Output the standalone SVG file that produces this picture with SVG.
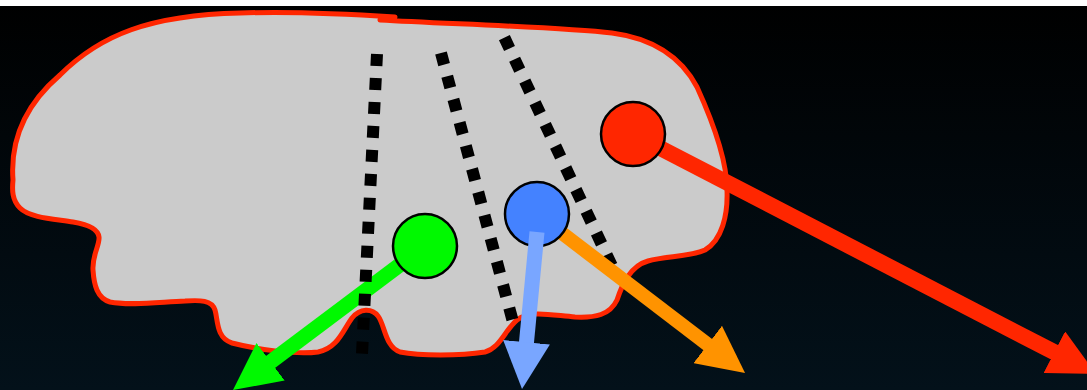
<svg xmlns="http://www.w3.org/2000/svg" width="1087" height="390" viewBox="0 0 1087 390">
  <style>
    .outline { fill: #cbcbcb; stroke: #ff2600; stroke-width: 5; stroke-linejoin: round; }
    .dotted { fill: none; stroke: #000000; stroke-width: 12; stroke-dasharray: 12 12; }
    .node { stroke: #000000; stroke-width: 2.5; }
    .arrow { fill: none; stroke-linecap: butt; }
  </style>
  <defs>
    <linearGradient id="bg" x1="0" y1="0" x2="0" y2="1">
      <stop offset="0" stop-color="#000000"/>
      <stop offset="1" stop-color="#03111a"/>
    </linearGradient>
    <marker id="head-green" markerUnits="userSpaceOnUse" markerWidth="47" markerHeight="47" viewBox="0 0 47 47" refX="1" refY="23.5" orient="auto">
      <path d="M0,0 L47,23.5 L0,47 Z" fill="#00f900"/>
    </marker>
    <marker id="head-blue" markerUnits="userSpaceOnUse" markerWidth="47" markerHeight="47" viewBox="0 0 47 47" refX="1" refY="23.5" orient="auto">
      <path d="M0,0 L47,23.5 L0,47 Z" fill="#79a6ff"/>
    </marker>
    <marker id="head-orange" markerUnits="userSpaceOnUse" markerWidth="47" markerHeight="47" viewBox="0 0 47 47" refX="1" refY="23.5" orient="auto">
      <path d="M0,0 L47,23.5 L0,47 Z" fill="#ff9300"/>
    </marker>
    <marker id="head-red" markerUnits="userSpaceOnUse" markerWidth="47" markerHeight="47" viewBox="0 0 47 47" refX="1" refY="23.5" orient="auto">
      <path d="M0,0 L47,23.5 L0,47 Z" fill="#ff2600"/>
    </marker>
  </defs>

  <rect x="0" y="0" width="1087" height="390" fill="url(#bg)"/>
  <rect x="0" y="0" width="1087" height="6" fill="#ffffff"/>

  <g id="region">
    <path class="outline" d="M13,180 C10,140 25,105 60,75 C100,35 150,15 240,13 C300,11 350,14 395,17 L380,20 C450,24 560,27 612,33 C650,38 680,55 697,87 C712,120 727,160 727,190 C728,215 722,240 705,250 C690,257 665,256 648,261 C630,266 622,285 617,300 C610,315 595,318 575,317 C550,315 530,310 517,320 C505,330 500,348 485,352 C460,356 420,356 400,352 C385,347 385,325 378,316 C372,308 360,308 352,318 C343,330 338,348 318,352 C295,355 255,349 232,343 C216,338 218,320 215,310 C212,300 200,300 185,301 C160,302 130,306 110,302 C97,298 94,285 93,270 C92,255 100,245 99,237 C98,228 85,224 73,222 C55,219 30,218 20,208 C12,200 12,190 13,180 Z"/>
  </g>

  <g id="connectors">
    <line class="arrow" x1="425" y1="246" x2="269.8" y2="362.4" stroke="#00f900" stroke-width="15" marker-end="url(#head-green)"/>
    <g id="boundaries">
      <line class="dotted" x1="377" y1="54" x2="362" y2="354"/>
      <line class="dotted" x1="441" y1="53" x2="513" y2="322"/>
      <line class="dotted" x1="504.4" y1="37.6" x2="612.6" y2="267.4"/>
    </g>
    <line class="arrow" x1="537" y1="214" x2="708.5" y2="345.1" stroke="#ff9300" stroke-width="14" marker-end="url(#head-orange)"/>
    <line class="arrow" x1="633" y1="134" x2="1055.2" y2="352.7" stroke="#ff2600" stroke-width="16" marker-end="url(#head-red)"/>
  </g>

  <g id="node-red">
    <circle class="node" cx="633" cy="134" r="32" fill="#ff2600"/>
  </g>
  <g id="node-green">
    <circle class="node" cx="425" cy="246" r="32" fill="#00f900"/>
  </g>
  <g id="node-blue">
    <circle class="node" cx="537" cy="214" r="32" fill="#4482ff"/>
  </g>

  <g id="connectors-front">
    <line class="arrow" x1="537" y1="232" x2="526.4" y2="343.2" stroke="#79a6ff" stroke-width="15" marker-end="url(#head-blue)"/>
  </g>
</svg>
